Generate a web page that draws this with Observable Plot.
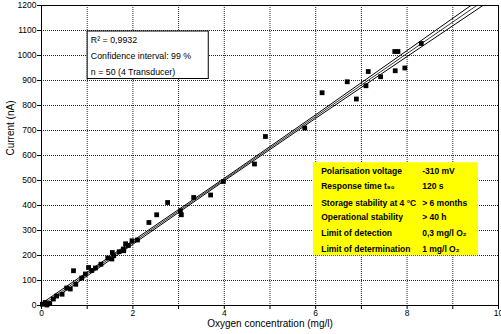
<!DOCTYPE html>
<html>
<head>
<meta charset="utf-8">
<script src="https://cdn.jsdelivr.net/npm/d3@7"></script>
<script src="https://cdn.jsdelivr.net/npm/@observablehq/plot@0.6"></script>
<style>
  html, body { margin: 0; padding: 0; background: white; }
</style>
</head>
<body>
<div id="chart"></div>
<script>
// Measured points: oxygen concentration (mg/l) and current (nA)
const concX = [0.02,0.08,0.12,0.18,0.26,0.33,0.45,0.55,0.63,0.70,0.75,0.88,0.96,1.03,1.10,1.18,1.30,1.45,1.54,1.58,1.55,1.70,1.80,1.79,1.84,1.90,1.98,2.10,2.35,2.52,2.76,3.04,3.06,3.33,3.70,3.98,4.66,4.90,5.76,6.14,6.69,6.89,7.10,7.15,7.42,7.73,7.80,7.74,7.95,8.31];
const currentY = [5,12,2,8,26,38,45,70,66,139,85,110,126,152,140,150,165,190,186,199,212,215,219,226,247,240,259,262,332,363,412,379,363,432,442,496,566,676,710,851,895,826,879,936,915,1016,1016,939,950,1048];

// Regression line and 99 % confidence limits
const fitX = [0, 2, 4, 6, 8, 10];
const fitY = [0, 252, 504, 756, 1008, 1260];
const upperY = [8, 259, 509, 763, 1020, 1278];
const lowerY = [-8, 245, 499, 749, 996, 1242];

// Axis ticks
const xTicks = [0,1,2,3,4,5,6,7,8,9,10];
const yTicks = [0,100,200,300,400,500,600,700,800,900,1000,1100,1200];

// Annotation texts
const statLines = ["R\u00B2 = 0,9932", "Confidence interval: 99 %", "n = 50 (4 Transducer)"];
const statY = [1062, 998, 932];
const propNames = ["Polarisation voltage", "Response time t\u2089\u2080", "Storage stability at 4 \u00B0C", "Operational stability", "Limit of detection", "Limit of determination"];
const propValues = ["-310 mV", "120 s", "> 6 months", "> 40 h", "0,3 mg/l O\u2082", "1 mg/l O\u2082"];
const propY = [536, 475, 408, 352, 288, 226];

const points = concX.map((x, i) => ({x, y: currentY[i]}));
const fit = fitX.map((x, i) => ({x, mid: fitY[i], hi: upperY[i], lo: lowerY[i]}));
const stats = statLines.map((t, i) => ({t, y: statY[i]}));
const props = propNames.map((n, i) => ({n, v: propValues[i], y: propY[i]}));

const chart = Plot.plot({
  width: 501,
  height: 334,
  marginLeft: 41,
  marginRight: 3,
  marginTop: 5,
  marginBottom: 29,
  style: {fontFamily: "'Liberation Sans', Arial, sans-serif", fontSize: "8.5px", background: "white", color: "black"},
  x: {domain: [0, 10]},
  y: {domain: [0, 1200]},
  marks: [
    Plot.gridX(xTicks, {stroke: "#000", strokeOpacity: 0.85, strokeDasharray: "1,1"}),
    Plot.gridY(yTicks, {stroke: "#000", strokeOpacity: 0.85, strokeDasharray: "1,1"}),
    // statistics box
    Plot.rect([0], {x1: 1.01, x2: 3.66, y1: 906, y2: 1096, fill: "white", stroke: "black", strokeWidth: 1}),
    Plot.text(stats, {x: 1.08, y: "y", text: "t", textAnchor: "start", fontSize: 8.8}),
    // regression band
    Plot.line(fit, {x: "x", y: "hi", stroke: "black", strokeWidth: 1, clip: true}),
    Plot.line(fit, {x: "x", y: "lo", stroke: "black", strokeWidth: 1, clip: true}),
    Plot.line(fit, {x: "x", y: "mid", stroke: "black", strokeWidth: 0.8, clip: true}),
    Plot.dot(points, {x: "x", y: "y", symbol: "square", r: 2.7, fill: "black", stroke: "none"}),
    // properties box
    Plot.rect([0], {x1: 5.95, x2: 9.56, y1: 199, y2: 571, fill: "#ffff00"}),
    Plot.text(props, {x: 6.12, y: "y", text: "n", textAnchor: "start", fontWeight: "bold", fontSize: 8.5}),
    Plot.text(props, {x: 8.33, y: "y", text: "v", textAnchor: "start", fontWeight: "bold", fontSize: 8.5}),
    Plot.frame({stroke: "black", strokeWidth: 1}),
    Plot.axisX(xTicks, {tickSize: 4, tickPadding: 0, tickFormat: d => d % 2 === 0 ? String(d) : "", label: null, fontSize: 8.5}),
    Plot.axisY(yTicks, {tickSize: 4, tickPadding: 1, tickFormat: d => String(d), label: null, fontSize: 8.5}),
    Plot.text(["Current (nA)"], {frameAnchor: "left", dx: -31, rotate: -90, fontSize: 10}),
    Plot.text(["Oxygen concentration (mg/l)"], {frameAnchor: "bottom", dy: 21, fontSize: 10})
  ]
});
document.getElementById("chart").appendChild(chart);
</script>
</body>
</html>
